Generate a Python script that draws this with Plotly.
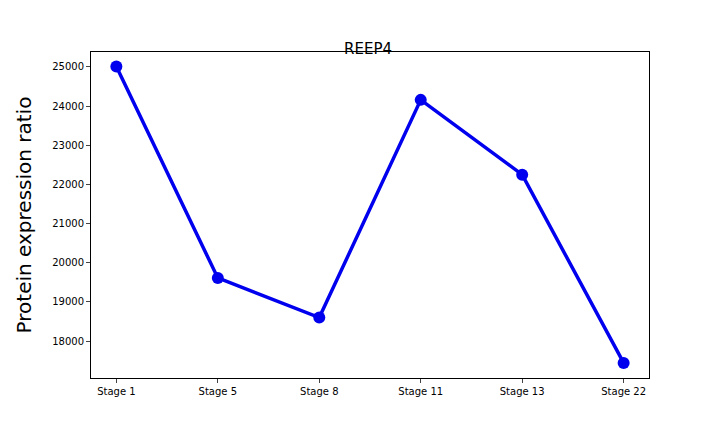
import plotly.graph_objects as go

stages = ["Stage 1", "Stage 5", "Stage 8", "Stage 11", "Stage 13", "Stage 22"]
ratio = [25010, 19610, 18600, 24160, 22250, 17440]
y_ticks = [18000, 19000, 20000, 21000, 22000, 23000, 24000, 25000]

fig = go.Figure()
fig.add_trace(go.Scatter(x=stages, y=ratio, mode="lines+markers",
                         line=dict(color="#0000ee", width=3.5),
                         marker=dict(color="#0000ee", size=12)))

fig.update_layout(
    width=720, height=432,
    paper_bgcolor="white", plot_bgcolor="white",
    margin=dict(l=83, r=79, t=44, b=62),
    showlegend=False,
    font=dict(family="DejaVu Sans", color="black", size=10),
    title=dict(text="REEP4", x=0.5, xanchor="center", y=0.905, yanchor="middle",
               font=dict(size=15)),
)
fig.update_xaxes(showline=True, linecolor="black", mirror=True, ticks="outside",
                 ticklen=4, showgrid=False, range=[-0.25, 5.25])
fig.update_yaxes(title=dict(text="Protein expression ratio", font=dict(size=20)),
                 showline=True, linecolor="black", mirror=True, ticks="outside",
                 ticklen=4, showgrid=False, tickvals=y_ticks, range=[17055, 25383],
                 tickformat="d")

fig.write_html("out.html")
